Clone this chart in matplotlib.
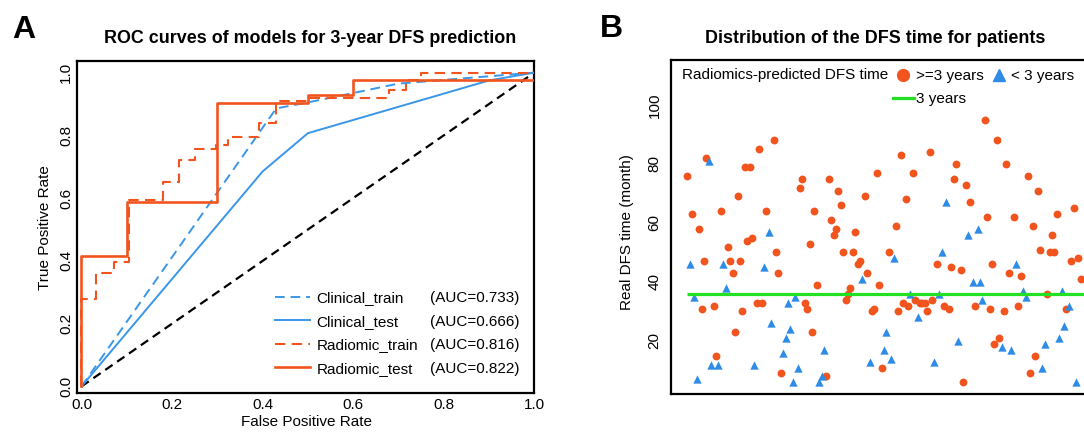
import numpy as np
import matplotlib
matplotlib.use("Agg")
import matplotlib.pyplot as plt
from matplotlib.lines import Line2D

plt.rcParams["font.family"] = ["Liberation Sans", "DejaVu Sans"]

# ---- panel A: ROC curves ----
clin_train_fpr = [0.0, 0.43, 0.5, 0.7, 1.0]
clin_train_tpr = [0.0, 0.886, 0.905, 0.965, 1.0]
clin_test_fpr = [0.0, 0.4, 0.5, 0.9, 1.0]
clin_test_tpr = [0.0, 0.685, 0.807, 0.975, 1.0]
rad_train_fpr = [0.0, 0.0, 0.032, 0.071, 0.106, 0.179, 0.215, 0.25, 0.298,
                 0.323, 0.392, 0.43, 0.5, 0.68, 0.716, 0.75, 1.0]
rad_train_tpr = [0.0, 0.279, 0.361, 0.396, 0.594, 0.653, 0.722, 0.757, 0.768,
                 0.794, 0.839, 0.91, 0.92, 0.945, 0.977, 1.0, 1.0]
rad_test_fpr = [0.0, 0.0, 0.1, 0.3, 0.5, 0.6, 1.0]
rad_test_tpr = [0.0, 0.416, 0.589, 0.904, 0.929, 0.977, 0.977]

model_names = ["Clinical_train", "Clinical_test", "Radiomic_train", "Radiomic_test"]
model_auc = [0.733, 0.666, 0.816, 0.822]

# ---- panel B: real DFS time per patient ----
dfs_months = [
    76, 46, 63, 35, 7, 58, 31, 47, 82, 81, 12, 32, 15, 12, 64, 46, 38, 52, 47, 43,
    23, 69, 47, 30, 79, 54, 79, 55, 12, 33, 85, 33, 45, 64, 57, 26, 88, 50, 43, 9,
    16, 21, 33, 24, 6, 35, 11, 72, 75, 33, 31, 53, 23, 64, 39, 6, 8, 17, 8, 75,
    61, 56, 58, 71, 66, 50, 34, 36, 38, 50, 57, 46, 47, 41, 69, 43, 13, 30, 31, 77,
    39, 11, 17, 23, 50, 14, 48, 59, 30, 83, 33, 68, 32, 36, 77, 34, 28, 33, 33, 33,
    30, 84, 34, 13, 46, 36, 50, 32, 67, 31, 45, 75, 80, 20, 44, 6, 73, 56, 67, 40,
    32, 58, 40, 34, 95, 62, 31, 46, 19, 88, 21, 18, 30, 80, 43, 17, 62, 46, 32, 42,
    37, 35, 76, 9, 59, 15, 71, 51, 11, 19, 36, 50, 56, 50, 63, 21, 37, 25, 31, 32,
    47, 65, 6, 48, 41,
]
# 1 = radiomics-predicted DFS >= 3 years, 0 = < 3 years
pred_long = [
    1, 0, 1, 0, 0, 1, 1, 1, 1, 0, 0, 1, 1, 0, 1, 0, 0, 1, 1, 1,
    1, 1, 1, 1, 1, 1, 1, 1, 0, 1, 1, 1, 0, 1, 0, 0, 1, 1, 1, 1,
    0, 0, 0, 0, 0, 0, 0, 1, 1, 1, 1, 1, 1, 1, 1, 0, 0, 0, 1, 1,
    1, 1, 1, 1, 1, 1, 1, 1, 1, 1, 1, 1, 1, 0, 1, 1, 0, 1, 1, 1,
    1, 1, 0, 0, 1, 0, 0, 1, 1, 1, 1, 1, 1, 0, 1, 1, 0, 1, 1, 1,
    1, 1, 1, 0, 1, 0, 0, 1, 0, 1, 1, 1, 1, 0, 1, 1, 1, 0, 1, 0,
    1, 0, 0, 0, 1, 1, 1, 1, 1, 1, 1, 0, 1, 1, 1, 0, 1, 0, 1, 1,
    0, 0, 1, 1, 1, 1, 1, 1, 0, 0, 1, 1, 1, 1, 1, 0, 0, 0, 1, 0,
    1, 1, 0, 1, 1,
]
three_years = 36

ORANGE = "#F2541E"
BLUE = "#3A96E8"
TRI_BLUE = "#2E8CE6"
GREEN = "#22E022"
W, H = 1084, 432

fig = plt.figure(figsize=(W / 100, H / 100), dpi=100)


def px_box(l, t, r, b):
    return [l / W, 1 - b / H, (r - l) / W, (b - t) / H]


def style_box(ax):
    for s in ax.spines.values():
        s.set_linewidth(1.6)
        s.set_color("black")


# ---------------- A ----------------
ax = fig.add_axes(px_box(76.7, 61, 534.3, 392.7))
style_box(ax)
ax.plot([0, 1], [0, 1], color="black", lw=1.6, dashes=(4, 2.5), zorder=2)
l1, = ax.plot(clin_train_fpr, clin_train_tpr, color=BLUE, lw=1.4, dashes=(5, 3), zorder=3)
l2, = ax.plot(clin_test_fpr, clin_test_tpr, color=BLUE, lw=1.4, zorder=3)
l3, = ax.plot(rad_train_fpr, rad_train_tpr, color=ORANGE, lw=1.5,
              dashes=(5, 3), drawstyle="steps-post", zorder=4)
l4, = ax.plot(rad_test_fpr, rad_test_tpr, color=ORANGE, lw=1.9,
              drawstyle="steps-post", zorder=4)
ax.set_xlim(-0.0106, 1.0)
ax.set_ylim(-0.02, 1.037)
ticks = [0.0, 0.2, 0.4, 0.6, 0.8, 1.0]
ax.set_xticks(ticks)
ax.set_xticklabels([f"{t:.1f}" for t in ticks])
ax.set_yticks(ticks)
ax.set_yticklabels([f"{t:.1f}" for t in ticks])
ax.tick_params(axis="x", length=0, labelsize=11, pad=3.5)
ax.tick_params(axis="y", length=0, labelsize=11, pad=2.5)
for lab in ax.get_yticklabels():
    lab.set_rotation(90)
    lab.set_va("center")
    lab.set_ha("right")

leg_top = 1 - 291.3 / H
leg1 = ax.legend([l1, l2, l3, l4], model_names, loc="upper left",
                 bbox_to_anchor=(275.3 / W, leg_top), bbox_transform=fig.transFigure,
                 frameon=False, fontsize=11, borderpad=0, borderaxespad=0,
                 handlelength=2.3, handletextpad=0.4, labelspacing=0.62)
ax.add_artist(leg1)
blank = [Line2D([], [], alpha=0) for _ in model_auc]
ax.legend(blank, [f"(AUC={a:.3f})" for a in model_auc], loc="upper left",
          bbox_to_anchor=(430 / W, leg_top), bbox_transform=fig.transFigure,
          frameon=False, fontsize=11, borderpad=0, borderaxespad=0, handlelength=0,
          handletextpad=0, labelspacing=0.62)

fig.text(310 / W, 1 - 38.3 / H, "ROC curves of models for 3-year DFS prediction",
         ha="center", va="center", fontsize=12.9, fontweight="bold")
fig.text(306.7 / W, 1 - 421.7 / H, "False Positive Rate", ha="center", va="center", fontsize=11)
fig.text(44.7 / W, 1 - 228 / H, "True Positive Rate", ha="center", va="center",
         rotation=90, fontsize=11)
fig.text(12 / W, 1 - 38 / H, "A", ha="left", va="baseline", fontsize=23, fontweight="bold")

# ---------------- B ----------------
idx = np.arange(1, len(dfs_months) + 1)
dfs = np.array(dfs_months)
grp = np.array(pred_long) == 1
xmax = 187
bx = fig.add_axes(px_box(670.7, 60.3, 670.7 + (xmax + 5.9) * 2.4, 394.3))
style_box(bx)
bx.scatter(idx[grp], dfs[grp], s=32, marker="o", color=ORANGE, linewidths=0, zorder=3)
bx.scatter(idx[~grp], dfs[~grp], s=36, marker="^", color=TRI_BLUE, linewidths=0, zorder=3)
bx.hlines(three_years, idx[0], xmax, color=GREEN, lw=2.3, zorder=4)
bx.set_xlim(-5.9, xmax)
bx.set_ylim(1.93, 115.15)
bx.set_xticks([])
bx.set_yticks([20, 40, 60, 80, 100])
bx.tick_params(length=0, labelsize=11, pad=6.5)
for lab in bx.get_yticklabels():
    lab.set_rotation(90)
    lab.set_va("center")
    lab.set_ha("right")

bx.text(681.7 / W, 1 - 75 / H, "Radiomics-predicted DFS time", transform=fig.transFigure,
        ha="left", va="center", fontsize=11)
h_long = Line2D([], [], ls="none", marker="o", color=ORANGE, markersize=8.5)
h_thr = Line2D([], [], color=GREEN, lw=2.3)
h_short = Line2D([], [], ls="none", marker="^", color=TRI_BLUE, markersize=9)
h_none = Line2D([], [], alpha=0)
bx.legend([h_long, h_thr, h_short, h_none], [">=3 years", "3 years", "< 3 years", ""],
          ncol=2, loc="upper left", bbox_to_anchor=(893 / W, 1 - 69 / H),
          bbox_transform=fig.transFigure, frameon=False, fontsize=11, borderpad=0,
          borderaxespad=0, handlelength=1.35, handletextpad=0.15, labelspacing=0.58,
          columnspacing=0.3)

fig.text(875.5 / W, 1 - 38.3 / H, "Distribution of the DFS time for patients",
         ha="center", va="center", fontsize=12.9, fontweight="bold")
fig.text(626.7 / W, 1 - 232.5 / H, "Real DFS time (month)", ha="center", va="center",
         rotation=90, fontsize=11)
fig.text(600 / W, 1 - 37.3 / H, "B", ha="left", va="baseline", fontsize=23, fontweight="bold")

fig.savefig("out.png", dpi=100)
